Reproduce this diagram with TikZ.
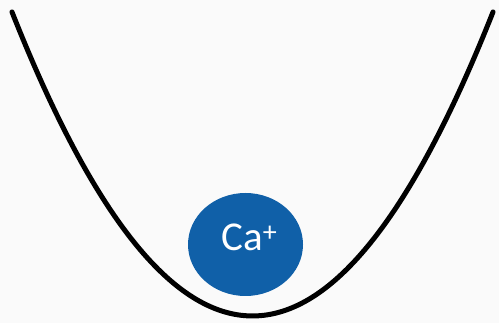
\documentclass[tikz,border=0pt]{standalone}
\usepackage{fontspec}
\setmainfont{Carlito}
\usetikzlibrary{shapes.geometric}
\definecolor{bgc}{HTML}{FAFAFA}
\definecolor{ionblue}{HTML}{1060A8}
\tikzset{
  well/.style={line width=5pt, line cap=round, black},
  ionball/.style={ellipse, fill=ionblue, inner sep=0pt, minimum width=115pt, minimum height=103pt},
  ionlabel/.style={text=white, inner sep=0pt, anchor=base, font=\fontsize{41}{41}\selectfont}
}
\begin{document}
\begin{tikzpicture}[x=1pt, y=-1pt]
  \fill[bgc] (0,0) rectangle (499,323);
  \useasboundingbox (0,0) rectangle (499,323);
  \coordinate (wl) at (12,12);
  \coordinate (wr) at (493,12);
  \coordinate (c1) at (172.3,417.3);
  \coordinate (c2) at (332.7,417.3);
  \draw[well] (wl) .. controls (c1) and (c2) .. (wr);
  \node[ionball] (ion) at (245.5,244.5) {};
  \node[ionlabel] (lbl) at (249,250.7) {Ca\raisebox{9pt}{\fontsize{28}{28}\selectfont +}};
\end{tikzpicture}
\end{document}
